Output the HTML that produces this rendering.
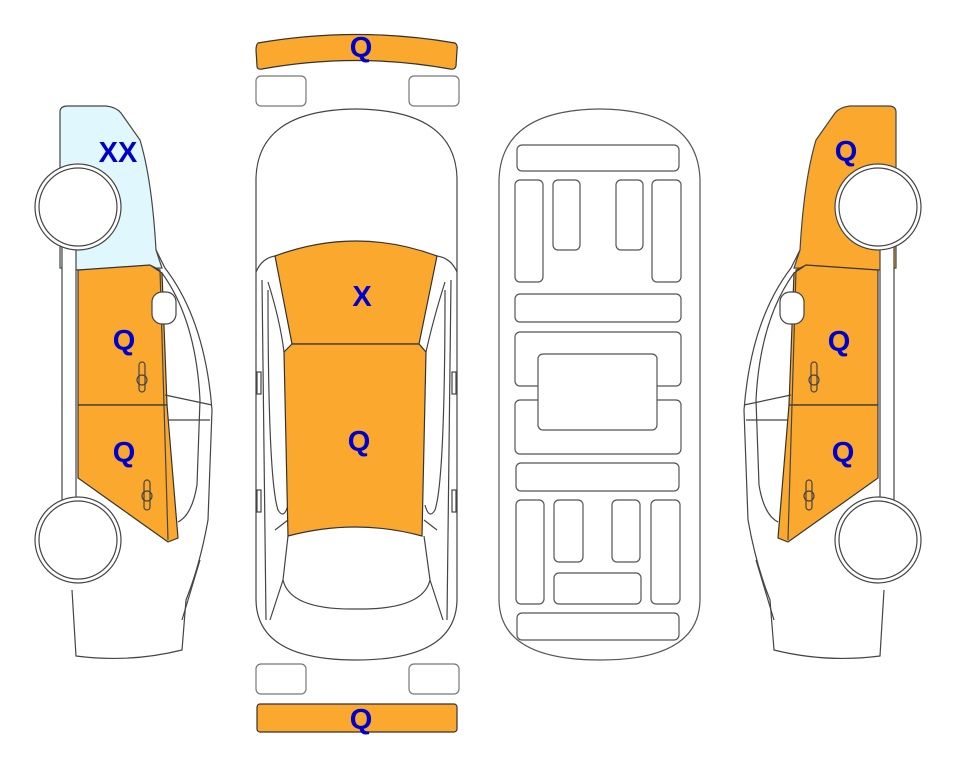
<!DOCTYPE html>
<html><head><meta charset="utf-8"><style>
html,body{margin:0;padding:0;background:#fff;}
svg{display:block;}
text{font-family:"Liberation Sans",Arial,sans-serif;font-weight:bold;fill:#0000cc;font-size:29px;text-anchor:middle;}
</style></head><body>
<svg width="963" height="768" viewBox="0 0 963 768" xmlns="http://www.w3.org/2000/svg">
<defs>
<g id="side" stroke="#444" stroke-width="1.2" fill="none">
  <path d="M60,112 Q60,106 68,106 L106,106 Q116,107 121,113 L140,140 Q152,180 156,250 L162,268 L78,270 L78,268 L60,268 Z" fill="VAR"/>
  <path d="M78,270 L150,265 L162,273 L167,405 L78,405 Z" fill="#fba92e" stroke="#333"/>
  <path d="M78,405 L167,405 L178,538 L168,542 L78,478 Z" fill="#fba92e" stroke="#333"/>
  <path d="M150,265 L160,270 L168,540"/>
  <path d="M156,250 L165,268 Q205,320 212,410 L208,520 Q200,565 186,600 L182,650 Q130,663 76,656 L72,590"/>
  <path d="M162,273 Q196,320 200,400 L197,485 Q192,515 178,522"/>
  <path d="M165,395 L212,405 M168,420 L210,420"/>
  <path d="M200,560 L182,620"/>
  <rect x="152" y="292" width="24" height="32" rx="10" fill="#fff"/>
  <rect x="62" y="246" width="14" height="260" fill="#fff"/>
  <path d="M76,478 L76,505" />
  <rect x="139" y="362" width="6" height="30" rx="3"/><circle cx="142" cy="380" r="5"/>
  <rect x="144" y="480" width="6" height="30" rx="3"/><circle cx="147" cy="496" r="5"/>
  <circle cx="78" cy="207" r="44" fill="#fff"/>
  <circle cx="78" cy="207" r="40" fill="#fff"/>
  <circle cx="78" cy="540" r="44" fill="#fff"/>
  <circle cx="78" cy="540" r="40" fill="#fff"/>
</g>
</defs>

<!-- left side -->
<g stroke="#444" stroke-width="1.2" fill="none">
  <path d="M60,112 Q60,106 68,106 L106,106 Q116,107 121,113 L140,140 Q152,180 156,250 L162,268 L78,270 L60,268 Z" fill="#e0f7fd"/>
</g>
<g id="sideL" stroke="#444" stroke-width="1.2" fill="none">
  <path d="M78,270 L150,265 L162,273 L167,405 L78,405 Z" fill="#fba92e" stroke="#333"/>
  <path d="M78,405 L167,405 L178,538 L168,542 L78,478 Z" fill="#fba92e" stroke="#333"/>
  <path d="M150,265 L160,270 L168,540"/>
  <path d="M156,250 L165,268 Q205,320 212,410 L208,520 Q200,565 186,600 L182,650 Q130,663 76,656 L72,590"/>
  <path d="M162,273 Q196,320 200,400 L197,485 Q192,515 178,522"/>
  <path d="M165,395 L212,405 M168,420 L210,420"/>
  <path d="M200,560 L182,620"/>
  <rect x="152" y="292" width="24" height="32" rx="10" fill="#fff"/>
  <rect x="62" y="246" width="14" height="260" fill="#fff"/>
  <rect x="139" y="362" width="6" height="30" rx="3"/><circle cx="142" cy="380" r="5"/>
  <rect x="144" y="480" width="6" height="30" rx="3"/><circle cx="147" cy="496" r="5"/>
  <circle cx="78" cy="207" r="43" fill="#fff"/>
  <circle cx="78" cy="207" r="39" fill="#fff"/>
  <circle cx="78" cy="540" r="43" fill="#fff"/>
  <circle cx="78" cy="540" r="39" fill="#fff"/>
</g>

<!-- right side (mirror) -->
<g transform="translate(956,0) scale(-1,1)">
  <path d="M60,112 Q60,106 68,106 L106,106 Q116,107 121,113 L140,140 Q152,180 156,250 L162,268 L78,270 L60,268 Z" fill="#fba92e" stroke="#444" stroke-width="1.2"/>
  <use href="#sideL"/>
</g>

<!-- top view -->
<g stroke="#444" stroke-width="1.2" fill="none">
  <path d="M258,43 Q356,26 455,43 Q458,45 457,50 L456,66 Q455,70 450,69 Q356,52 262,69 Q257,70 257,66 L256,50 Q256,45 258,43 Z" fill="#fba92e" stroke="#333"/>
  <rect x="256" y="76" width="50" height="30" rx="5" stroke="#777"/>
  <rect x="409" y="76" width="50" height="30" rx="5" stroke="#777"/>
  <rect x="256" y="664" width="50" height="30" rx="5" stroke="#777"/>
  <rect x="409" y="664" width="50" height="30" rx="5" stroke="#777"/>
  <rect x="257" y="704" width="200" height="28" rx="3" fill="#fba92e" stroke="#333"/>

  <path d="M256,178 Q258,110 356,109 Q455,110 457,178 L457,600 Q456,660 356,660 Q257,660 256,600 Z"/>
  <path d="M256,272 Q262,258 275,256 M457,272 Q451,258 437,256"/>
  <path d="M262,280 L266,620 M451,280 L447,620"/>
  <path d="M268,282 Q280,320 284,352 M445,282 Q433,320 426,352"/>
  <path d="M268,290 Q268,480 278,510 Q284,520 288,505 M445,290 Q445,480 435,510 Q429,520 425,505"/>
  <path d="M288,536 L283,580 Q290,610 356,609 Q423,610 430,580 L424,536"/>
  <path d="M283,580 L270,620 M430,580 L443,620"/>
  <path d="M288,520 L275,530 M424,520 L437,530"/>
  <rect x="257" y="372" width="4" height="22" fill="#fff"/>
  <rect x="452" y="372" width="4" height="22" fill="#fff"/>
  <rect x="257" y="490" width="4" height="22" fill="#fff"/>
  <rect x="452" y="490" width="4" height="22" fill="#fff"/>

  <path d="M275,256 Q356,226 437,256 L419,344 L292,344 Z" fill="#fba92e" stroke="#333"/>
  <path d="M292,344 L419,344 L426,352 L422,536 Q356,518 288,536 L284,352 Z" fill="#fba92e" stroke="#333"/>

  <!-- underside -->
  <path d="M499,180 Q501,110 600,109 Q698,110 700,180 L700,600 Q699,660 600,660 Q500,660 499,600 Z" stroke="#555"/>
  <g stroke="#555" fill="#fff">
    <rect x="517" y="145" width="162" height="26" rx="5"/>
    <rect x="515" y="180" width="28" height="102" rx="5"/>
    <rect x="553" y="180" width="27" height="70" rx="5"/>
    <rect x="616" y="180" width="27" height="70" rx="5"/>
    <rect x="652" y="180" width="29" height="102" rx="5"/>
    <rect x="515" y="294" width="166" height="28" rx="5"/>
    <rect x="515" y="332" width="166" height="54" rx="5"/>
    <rect x="515" y="400" width="166" height="54" rx="5"/>
    <rect x="538" y="354" width="119" height="76" rx="5"/>
    <rect x="516" y="463" width="163" height="28" rx="5"/>
    <rect x="516" y="500" width="28" height="104" rx="5"/>
    <rect x="554" y="500" width="29" height="62" rx="5"/>
    <rect x="612" y="500" width="28" height="62" rx="5"/>
    <rect x="651" y="500" width="29" height="104" rx="5"/>
    <rect x="554" y="573" width="87" height="31" rx="5"/>
    <rect x="517" y="613" width="162" height="27" rx="5"/>
  </g>
</g>

<text x="361" y="57">Q</text>
<text x="362" y="306">X</text>
<text x="359" y="451">Q</text>
<text x="361" y="729">Q</text>
<text x="118" y="162">XX</text>
<text x="124" y="350">Q</text>
<text x="124" y="462">Q</text>
<text x="846" y="161">Q</text>
<text x="839" y="351">Q</text>
<text x="843" y="462">Q</text>
</svg>
</body></html>
